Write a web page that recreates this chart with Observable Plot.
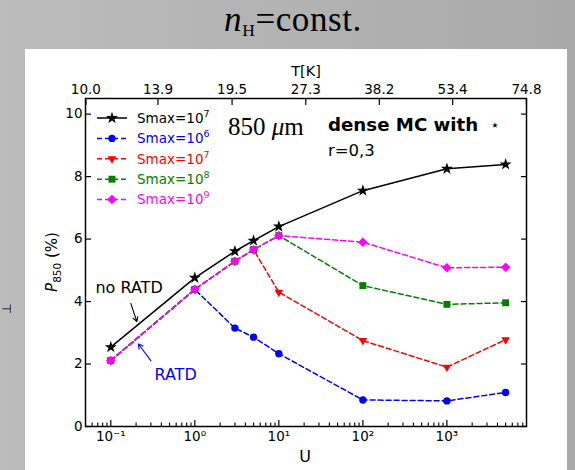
<!DOCTYPE html>
<html>
<head>
<meta charset="utf-8">
<script src="https://cdn.jsdelivr.net/npm/d3@7"></script>
<script src="https://cdn.jsdelivr.net/npm/@observablehq/plot@0.6"></script>
<style>
html, body { margin: 0; padding: 0; }
#page { position: relative; width: 575px; height: 470px; overflow: hidden;
  background: linear-gradient(to right, #bcbcbc, #a9a9a9); }
#title { position: absolute; left: 0; top: 2px; width: 564px; padding-left: 11px; text-align: center;
  font-family: "Liberation Serif", "Times New Roman", serif; font-size: 35px; line-height: 35px;
  letter-spacing: 0.6px; color: #000; }
#title i { font-style: italic; }
#title .sub { font-size: 0.5em; position: relative; top: 0.3em; }
#cut { position: absolute; left: 1px; top: 302px; font-family: "DejaVu Sans"; font-size: 12px; color: #000; }
#panel { position: absolute; left: 25px; top: 49px; width: 542px; height: 421px; background: #fff; }
#panel svg { display: block; overflow: visible; }
</style>
</head>
<body>
<div id="page">
  <div id="title"><i>n</i><span class="sub">H</span>=const.</div>
  <div id="cut">⊣</div>
  <div id="panel"></div>
</div>
<script>
// ---------------- data ----------------
const U = [0.1, 1, 3, 5, 10, 100, 1000, 5000];
const pNoRATD  = [2.54, 4.76, 5.61, 5.95, 6.40, 7.55, 8.25, 8.39];
const pSmax1e6 = [2.11, 4.39, 3.15, 2.86, 2.33, 0.85, 0.82, 1.09];
const pSmax1e7 = [2.11, 4.39, 5.29, 5.66, 4.30, 2.75, 1.90, 2.78];
const pSmax1e8 = [2.11, 4.39, 5.29, 5.66, 6.11, 4.51, 3.91, 3.96];
const pSmax1e9 = [2.11, 4.39, 5.29, 5.66, 6.11, 5.90, 5.08, 5.10];

const seriesKeys = ["noRATD", "s1e6", "s1e7", "s1e8", "s1e9"];
const seriesValues = [pNoRATD, pSmax1e6, pSmax1e7, pSmax1e8, pSmax1e9];
const legendBase = "Smax=10";
const legendExp = ["7", "6", "7", "8", "9"];

const xTickValues = [0.1, 1, 10, 100, 1000];
const xTickLabels = ["10⁻¹", "10⁰", "10¹", "10²", "10³"];
const yTickValues = [0, 2, 4, 6, 8, 10];
const topTickLabels = ["10.0", "13.9", "19.5", "27.3", "38.2", "53.4", "74.8"];

// annotations (data coordinates)
const noRatdText = {U: 0.165, P: 4.45, label: "no RATD"};
const noRatdArrow = {U1: 0.173, P1: 3.94, U2: 0.204, P2: 3.36};
const ratdText = {U: 0.59, P: 1.66, label: "RATD"};
const ratdArrow = {U1: 0.30, P1: 2.11, U2: 0.213, P2: 2.64};

// ---------------- styles ----------------
const styles = {
  noRATD: {color: "#000000", dash: null, symbol: "star", r: 3.8, rotate: 0},
  s1e6:   {color: "#0000ff", dash: "5,3", symbol: "circle", r: 3.7, rotate: 0},
  s1e7:   {color: "#ff0000", dash: "5,3", symbol: "triangle", r: 3.2, rotate: 180},
  s1e8:   {color: "#008000", dash: "5,3", symbol: "square", r: 3.9, rotate: 0},
  s1e9:   {color: "#ff00ff", dash: "5,3", symbol: "diamond2", r: 4.3, rotate: 0}
};
const drawOrder = ["s1e6", "s1e7", "s1e8", "s1e9", "noRATD"];

const rows = {};
seriesKeys.forEach((k, j) => { rows[k] = U.map((u, i) => ({U: u, P: seriesValues[j][i], key: k})); });

// axis helpers
const xDomain = [0.05, 8860];
const U0 = 0.0505;
const topTickValues = topTickLabels.map(t => U0 * Math.pow(+t / 10, 6));
const topTicks = topTickLabels.map((t, i) => ({U: topTickValues[i], label: t}));
const bottomTicks = xTickLabels.map((t, i) => ({U: xTickValues[i], label: t}));
const minorTicks = [];
for (let e = -2; e <= 3; e++) for (let m = 2; m <= 9; m++) {
  const v = m * Math.pow(10, e);
  if (v > xDomain[0] && v < xDomain[1]) minorTicks.push(v);
}

const W = 542, H = 421;
const mL = 60, mR = 41, mT = 49, mB = 44;

const seriesMarks = [];
for (const k of drawOrder) {
  const s = styles[k];
  seriesMarks.push(Plot.line(rows[k], {x: "U", y: "P", stroke: s.color, strokeWidth: 1.5,
    strokeDasharray: s.dash || undefined}));
  seriesMarks.push(Plot.dot(rows[k], {x: "U", y: "P", symbol: () => s.symbol, fill: s.color,
    stroke: "none", r: s.r, rotate: s.rotate}));
}

const chart = Plot.plot({
  width: W, height: H,
  marginLeft: mL, marginRight: mR, marginTop: mT, marginBottom: mB,
  style: {background: "white", fontFamily: "DejaVu Sans", fontSize: "13.5px", color: "#000", overflow: "visible"},
  x: {type: "log", domain: xDomain},
  y: {domain: [0, 10.5]},
  symbol: {type: "identity"},
  marks: [
    ...seriesMarks,
    Plot.arrow([noRatdArrow], {x1: "U1", y1: "P1", x2: "U2", y2: "P2", stroke: "#000", strokeWidth: 1.1, headLength: 7}),
    Plot.arrow([ratdArrow], {x1: "U1", y1: "P1", x2: "U2", y2: "P2", stroke: "#0000ff", strokeWidth: 1.1, headLength: 7}),
    Plot.text([noRatdText], {x: "U", y: "P", text: "label", fontSize: 16, fill: "#000"}),
    Plot.text([ratdText], {x: "U", y: "P", text: "label", fontSize: 16, fill: "#0000ff"}),
    Plot.axisX({anchor: "bottom", ticks: minorTicks, tickSize: -3.5, tickFormat: () => "", label: null, strokeWidth: 1.1}),
    Plot.axisX({anchor: "bottom", ticks: xTickValues, tickSize: -6, tickFormat: () => "", strokeWidth: 1.2, label: null}),
    Plot.text(bottomTicks, {x: "U", text: "label", frameAnchor: "bottom", lineAnchor: "top", dy: 5, fontSize: 13.5, fill: "#000"}),
    Plot.axisX({anchor: "top", ticks: topTickValues, tickSize: -6, tickFormat: () => "", strokeWidth: 1.2, label: null}),
    Plot.text(topTicks, {x: "U", text: "label", frameAnchor: "top", lineAnchor: "bottom", dy: -5, fontSize: 13.5, fill: "#000"}),
    Plot.axisY({anchor: "left", ticks: yTickValues, tickSize: -6, tickPadding: 9, strokeWidth: 1.2, label: null}),
    Plot.axisY({anchor: "right", ticks: yTickValues, tickSize: -6, tickFormat: () => "", strokeWidth: 1.2, label: null}),
    Plot.frame({stroke: "#000", strokeWidth: 1.5})
  ]
});
document.getElementById("panel").appendChild(chart);

// ---------------- extra text & legend ----------------
const svg = d3.select(chart);
const font = "DejaVu Sans";

// axis titles
svg.append("text").attr("x", 281).attr("y", 22).attr("text-anchor", "middle").attr("dy", "0.35em")
  .attr("font-family", font).attr("font-size", 14.5).attr("fill", "#000").text("T[K]");
svg.append("text").attr("x", 280).attr("y", 407).attr("text-anchor", "middle").attr("dy", "0.35em")
  .attr("font-family", font).attr("font-size", 16).attr("fill", "#000").text("U");
const yl = svg.append("text").attr("transform", "translate(27,213) rotate(-90)").attr("text-anchor", "middle")
  .attr("dy", "0.35em").attr("font-family", font).attr("font-size", 15).attr("fill", "#000");
yl.append("tspan").attr("font-style", "italic").text("P");
yl.append("tspan").attr("font-size", 10.5).attr("dy", 3.5).text("850");
yl.append("tspan").attr("dy", -3.5).text(" (%)");

// 850 μm
const t850 = svg.append("text").attr("x", 203).attr("y", 86).attr("text-anchor", "start")
  .attr("font-family", "Liberation Serif, Times New Roman, serif")
  .attr("font-size", 25).attr("fill", "#000");
t850.append("tspan").text("850 ");
t850.append("tspan").attr("font-style", "italic").text("μ");
t850.append("tspan").text("m");

// dense MC with ⋆ / r=0,3
svg.append("text").attr("x", 303).attr("y", 82).attr("text-anchor", "start").attr("font-family", font)
  .attr("font-weight", "bold").attr("font-size", 18.2).attr("fill", "#000").text("dense MC with");
svg.append("text").attr("x", 470).attr("y", 81).attr("text-anchor", "middle").attr("font-family", font)
  .attr("font-size", 15).attr("fill", "#000").text("⋆");
svg.append("text").attr("x", 303).attr("y", 107).attr("text-anchor", "start").attr("font-family", font)
  .attr("font-size", 16.5).attr("fill", "#000").text("r=0,3");

// legend
const symMap = {star: d3.symbolStar, circle: d3.symbolCircle, triangle: d3.symbolTriangle,
  square: d3.symbolSquare, diamond2: d3.symbolDiamond2};
seriesKeys.forEach((k, i) => {
  const s = styles[k];
  const cy = 69 + i * 20.4;
  svg.append("line").attr("x1", 72).attr("x2", 102).attr("y1", cy).attr("y2", cy)
    .attr("stroke", s.color).attr("stroke-width", 1.5).attr("stroke-dasharray", s.dash || null);
  svg.append("path").attr("d", d3.symbol(symMap[s.symbol], Math.PI * s.r * s.r)())
    .attr("transform", `translate(87,${cy}) rotate(${s.rotate})`).attr("fill", s.color);
  const t = svg.append("text").attr("x", 112).attr("y", cy).attr("dy", "0.35em").attr("text-anchor", "start")
    .attr("font-family", font).attr("font-size", 13.5).attr("fill", s.color);
  t.append("tspan").text(legendBase);
  t.append("tspan").attr("font-size", 9.5).attr("dy", -6).text(legendExp[i]);
});
</script>
</body>
</html>
